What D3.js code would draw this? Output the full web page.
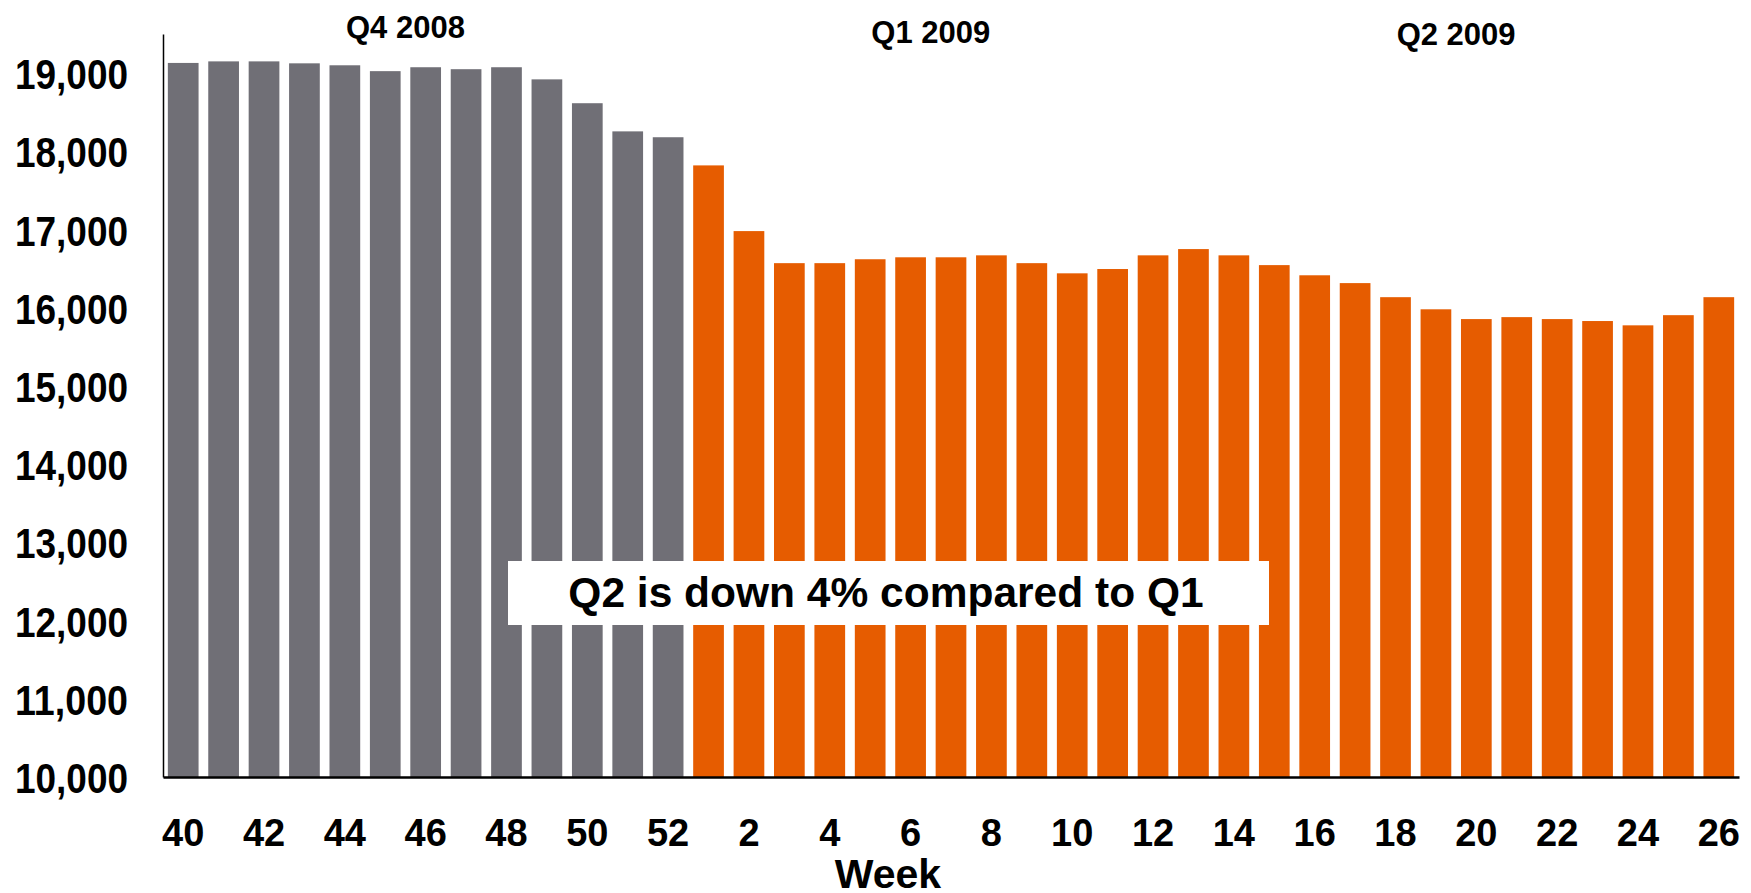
<!DOCTYPE html>
<html>
<head>
<meta charset="utf-8">
<script src="https://cdnjs.cloudflare.com/ajax/libs/d3/7.8.5/d3.min.js"></script>
<style>
  html, body { margin: 0; padding: 0; background: #ffffff; }
  svg { display: block; }
  text { font-family: "Liberation Sans", Arial, "Helvetica Neue", sans-serif; font-weight: bold; fill: #000; }
</style>
</head>
<body>
<svg id="chart" width="1751" height="893"></svg>
<script>
// Weekly totals, week 40 of 2008 through week 26 of 2009
const weeks = [40, 41, 42, 43, 44, 45, 46, 47, 48, 49, 50, 51, 52,
               1, 2, 3, 4, 5, 6, 7, 8, 9, 10, 11, 12, 13,
               14, 15, 16, 17, 18, 19, 20, 21, 22, 23, 24, 25, 26];
const years = [2008, 2008, 2008, 2008, 2008, 2008, 2008, 2008, 2008, 2008, 2008, 2008, 2008,
               2009, 2009, 2009, 2009, 2009, 2009, 2009, 2009, 2009, 2009, 2009, 2009, 2009,
               2009, 2009, 2009, 2009, 2009, 2009, 2009, 2009, 2009, 2009, 2009, 2009, 2009];
const values = [19130, 19150, 19150, 19125, 19100, 19025, 19075, 19050, 19075, 18920, 18615, 18255, 18180,
                17820, 16980, 16570, 16570, 16620, 16645, 16645, 16670, 16570, 16440, 16495, 16670, 16750,
                16670, 16545, 16415, 16315, 16135, 15980, 15855, 15880, 15855, 15830, 15775, 15905, 16135];
const yTicks = [10000, 11000, 12000, 13000, 14000, 15000, 16000, 17000, 18000, 19000];
const quarterNames = ["Q4 2008", "Q1 2009", "Q2 2009"];
const quarterFirstIdx = [0, 13, 26];
const quarterLastIdx = [12, 25, 38];
const axisTitle = "Week";
const noteText = "Q2 is down 4% compared to Q1";

const yearColor = { 2008: "#706f76", 2009: "#e65c00" };

const svg = d3.select("#chart");
const plot = { left: 163, right: 1739, top: 34, bottom: 777 };

const idx = d3.range(weeks.length);
const x = d3.scaleBand()
  .domain(idx)
  .range([plot.left, plot.right])
  .paddingInner(0.24)
  .paddingOuter(0.12);

const y = d3.scaleLinear()
  .domain([10000, 19500])
  .range([plot.bottom, plot.top]);

// bars
svg.append("g")
  .selectAll("rect")
  .data(idx)
  .join("rect")
  .attr("x", i => x(i))
  .attr("width", x.bandwidth())
  .attr("y", i => y(values[i]))
  .attr("height", i => y(10000) - y(values[i]))
  .attr("fill", i => yearColor[years[i]]);

// y axis, narrow tall numerals
const yAxis = svg.append("g")
  .attr("transform", `translate(${plot.left},0)`)
  .call(d3.axisLeft(y).tickValues(yTicks).tickSize(0).tickPadding(35).tickFormat(d3.format(",")));
yAxis.select(".domain").attr("stroke", "#000").attr("stroke-width", 1.5);
yAxis.selectAll("text")
  .style("font-size", "43px")
  .attr("font-family", null)
  .attr("dy", "0.36em")
  .attr("textLength", 113)
  .attr("lengthAdjust", "spacingAndGlyphs");

// x axis, every other week labelled
const xAxis = svg.append("g")
  .attr("transform", `translate(0,${plot.bottom})`)
  .call(d3.axisBottom(x)
    .tickValues(idx.filter(i => i % 2 === 0))
    .tickFormat(i => weeks[i])
    .tickSize(0)
    .tickPadding(42));
xAxis.select(".domain").attr("stroke", "#000").attr("stroke-width", 2.5);
xAxis.selectAll("text")
  .style("font-size", "38px")
  .attr("font-family", null);

// quarter headings above the bars
const headingBaseline = [38, 42.5, 44.5];
svg.append("g")
  .selectAll("text")
  .data(quarterNames)
  .join("text")
  .attr("x", (d, k) => (x(quarterFirstIdx[k]) + x(quarterLastIdx[k]) + x.bandwidth()) / 2 - x.step() / 2)
  .attr("y", (d, k) => headingBaseline[k])
  .attr("text-anchor", "middle")
  .style("font-size", "31px")
  .text(d => d);

// callout
svg.append("rect")
  .attr("x", 508).attr("y", 561)
  .attr("width", 761).attr("height", 64)
  .attr("fill", "#ffffff");
svg.append("text")
  .attr("x", 886).attr("y", 607)
  .attr("text-anchor", "middle")
  .style("font-size", "42.5px")
  .text(noteText);

// axis title
svg.append("text")
  .attr("x", 888).attr("y", 888)
  .attr("text-anchor", "middle")
  .style("font-size", "41px")
  .text(axisTitle);
</script>
</body>
</html>
